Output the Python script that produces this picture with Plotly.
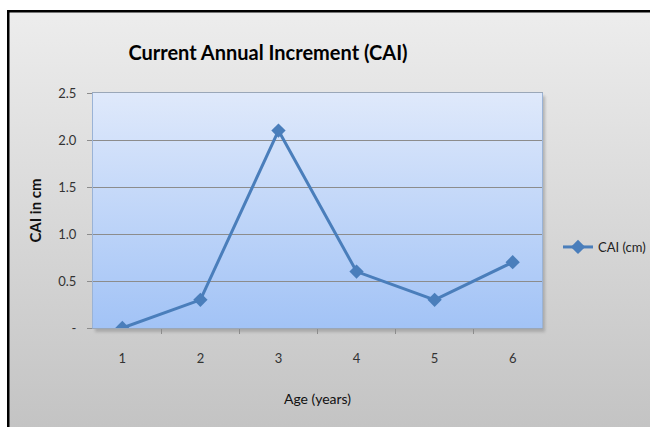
import plotly.graph_objects as go
import base64

# Data
ages = ["1", "2", "3", "4", "5", "6"]
cai_cm = [0.0, 0.3, 2.1, 0.6, 0.3, 0.7]
y_tick_vals = [0, 0.5, 1.0, 1.5, 2.0, 2.5]
y_tick_text = ["-", "0.5", "1.0", "1.5", "2.0", "2.5"]

FONT = "Lato, Liberation Sans, sans-serif"

W, H = 650, 427
L, R, T, B = 93, 108, 93, 99
pw, ph = W - L - R, H - T - B
box_left, box_top = 7, 10
bw, bh = W - box_left + 6, H - box_top + 6


def data_uri(svg):
    return "data:image/svg+xml;base64," + base64.b64encode(svg.encode()).decode()


def chart_bg_svg():
    # chart area: vertical gray gradient, black frame on top/left, soft shadow under plot area
    sx, sy = L - box_left, T - box_top
    return data_uri(
        f'<svg xmlns="http://www.w3.org/2000/svg" width="{bw}" height="{bh}" viewBox="0 0 {bw} {bh}" preserveAspectRatio="none">'
        '<defs><linearGradient id="g" x1="0" y1="0" x2="0" y2="1">'
        '<stop offset="0" stop-color="#ededed"/><stop offset="1" stop-color="#c3c3c3"/></linearGradient>'
        '<filter id="b" x="-5%" y="-5%" width="110%" height="110%"><feGaussianBlur stdDeviation="1.6"/></filter></defs>'
        f'<rect width="{bw}" height="{bh}" fill="url(#g)"/>'
        f'<rect x="{sx + 2}" y="{sy + 3}" width="{pw + 1}" height="{ph + 1}" fill="#8a8a8a" opacity="0.55" filter="url(#b)"/>'
        f'<path d="M1.25 {bh} V1.25 H{bw}" fill="none" stroke="black" stroke-width="2.5"/>'
        '</svg>'
    )


def plot_bg_svg():
    return data_uri(
        '<svg xmlns="http://www.w3.org/2000/svg" width="100" height="100" preserveAspectRatio="none">'
        '<defs><linearGradient id="g" x1="0" y1="0" x2="0" y2="1">'
        '<stop offset="0" stop-color="#dfe9fb"/><stop offset="1" stop-color="#a2c3f6"/></linearGradient></defs>'
        '<rect width="100" height="100" fill="url(#g)"/></svg>'
    )


def px_x(p):
    return (p - L) / pw


def px_y(p):
    return (H - B - p) / ph


fig = go.Figure()
fig.add_trace(go.Scatter(
    x=ages, y=cai_cm, mode="lines+markers", name="CAI (cm)",
    line=dict(color="#4a7ebb", width=3),
    marker=dict(symbol="diamond", size=11, color="#4a7ebb"),
))

fig.update_layout(
    width=W, height=H,
    margin=dict(l=L, r=R, t=T, b=B, autoexpand=False),
    paper_bgcolor="white",
    plot_bgcolor="rgba(0,0,0,0)",
    font=dict(family=FONT, size=12, color="#333333"),
    title=dict(text="<b>Current Annual Increment (CAI)</b>", font=dict(size=20, color="black", family=FONT),
               xref="container", yref="container", x=268 / W, y=1 - 53 / H,
               xanchor="center", yanchor="middle"),
    showlegend=True,
    legend=dict(x=px_x(558), y=px_y(247), xanchor="left", yanchor="middle",
                bgcolor="rgba(0,0,0,0)", font=dict(size=13, color="#222222")),
    images=[
        dict(source=chart_bg_svg(), xref="paper", yref="paper",
             x=px_x(box_left), y=px_y(box_top), sizex=bw / pw, sizey=bh / ph,
             sizing="stretch", xanchor="left", yanchor="top", layer="below"),
        dict(source=plot_bg_svg(), xref="paper", yref="paper",
             x=0, y=1, sizex=1, sizey=1, sizing="stretch", xanchor="left", yanchor="top", layer="below"),
    ],
)

fig.update_xaxes(
    type="category", tickson="boundaries", ticks="outside", ticklen=5, tickcolor="#8c8c8c",
    showline=True, linecolor="#9aa7b8", mirror=True, showgrid=False, ticklabelstandoff=18,
    tickfont=dict(size=13, color="#333333"), automargin=False,
    title=dict(text="Age (years)", font=dict(size=14, color="#111111"), standoff=29),
)
fig.update_yaxes(
    range=[0, 2.5], tickvals=y_tick_vals, ticktext=y_tick_text,
    ticks="outside", ticklen=5, tickcolor="#8c8c8c",
    showline=True, linecolor="#9ab3d6", mirror=True,
    showgrid=True, gridcolor="#8c8c8c", gridwidth=1, zeroline=False,
    ticklabelstandoff=8, tickfont=dict(size=13, color="#333333"), automargin=False,
    title=dict(text="<b>CAI in cm</b>", font=dict(size=15, color="#111111"), standoff=12),
)

fig.write_html(
    "out.html", config={"displayModeBar": False},
    post_script=("document.body.style.margin='0';document.body.style.overflow='hidden';"
                 "document.documentElement.style.overflow='hidden';"),
)
